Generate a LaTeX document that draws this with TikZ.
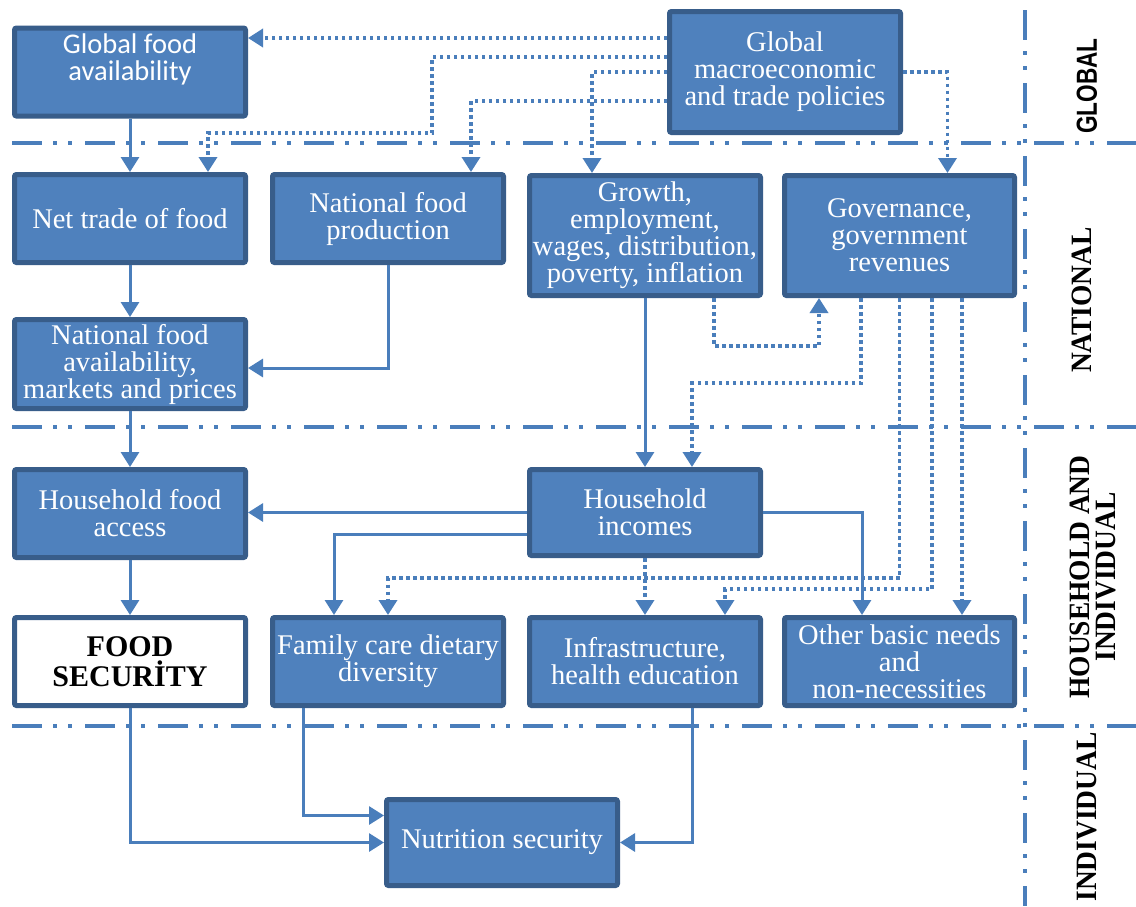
\documentclass[tikz,border=0pt]{standalone}
\usepackage{fontspec}
\setmainfont{Liberation Serif}
\newfontfamily\calfont{Carlito}
\newfontfamily\lsans{Liberation Sans}[FakeStretch=0.78]
\newfontfamily\labserif{Liberation Serif}[FakeStretch=0.93]
\usetikzlibrary{arrows.meta}
\definecolor{boxfill}{HTML}{4F81BD}
\definecolor{boxline}{HTML}{385D8A}
\definecolor{conn}{HTML}{4A7EBB}
\tikzset{
  box/.style={draw=boxline, fill=boxfill, line width=5pt, rounded corners=2pt,
    minimum width=231pt, minimum height=88pt, inner sep=0pt, align=center,
    text=white, font=\fontsize{28.5}{27}\selectfont},
  tallbox/.style={box, minimum height=120pt},
  sol/.style={draw=conn, line width=3pt, -{Triangle[width=18pt,length=15pt]}},
  dotc/.style={sol, line width=3.5pt, dash pattern=on 3.5pt off 3.5pt},
  divider/.style={draw=conn, line width=4pt,
    dash pattern=on 30pt off 11pt on 4pt off 11pt on 4pt off 13pt},
  lvl/.style={rotate=90, align=center, text=black,
    font=\labserif\bfseries\fontsize{29.5}{26}\selectfont}
}
\begin{document}
\begin{tikzpicture}[x=1pt,y=-1pt]
\fill[white] (0,0) rectangle (1136,906);
\useasboundingbox (0,0) rectangle (1136,906);

% level dividers
\draw[divider] (12,143) -- (1136,143);
\draw[divider] (12,427) -- (1136,427);
\draw[divider] (12,726) -- (1136,726);
\draw[divider] (1025,10) -- (1025,906);

% level labels
\node[lvl, font=\lsans\bfseries\fontsize{29}{26}\selectfont] (lglobal) at (1087,86) {GLOBAL};
\node[lvl] (lnational) at (1082,300) {NATIONAL};
\node[lvl] (lhousehold) at (1093,577) {HOUSEHOLD AND\\INDIVIDUAL};
\node[lvl] (lindividual) at (1087,817) {INDIVIDUAL};

% boxes
\node[box] (gfa) at (130,72) {};
\node[text=white, align=center, font=\calfont\fontsize{28.5}{27}\selectfont] (gfat) at (130,59) {Global food\\availability};
\node[box, minimum height=121pt] (gmt) at (785,72) {Global\\macroeconomic\\and trade policies};
\node[box] (ntf) at (130,218.5) {Net trade of food};
\node[box] (nfp) at (388,218.5) {National food\\production};
\node[tallbox] (gro) at (645,235.5) {Growth,\\employment,\\wages, distribution,\\poverty, inflation};
\node[tallbox, minimum width=230pt] (gov) at (899.5,235.5) {Governance,\\government\\revenues};
\node[box, minimum height=89pt] (nfa) at (130,364) {National food\\availability,\\markets and prices};
\node[box] (hfa) at (130,513.5) {Household food\\access};
\node[box, minimum height=86pt] (hin) at (645,512.5) {Household\\incomes};
\node[box, fill=white, text=black, font=\bfseries\fontsize{30}{29.5}\selectfont] (fs) at (130,661.5) {FOOD\\SECURİTY};
\node[box] (fam) at (388,661.5) {Family care dietary\\diversity};
\node[box] (inf) at (645,661.5) {Infrastructure,\\health education};
\node[box, minimum width=230pt] (obn) at (899.5,661.5) {Other basic needs\\and\\non-necessities};
\node[box, minimum height=86pt] (nut) at (502,842.5) {Nutrition security};

% dotted links from global policies
\draw[dotc] ([yshift=34]gmt.west) -- ([yshift=34]gfa.east);
\draw[dotc] ([yshift=15]gmt.west) -| (432,133) -| ([xshift=78]ntf.north);
\draw[dotc] ([yshift=-29]gmt.west) -| ([xshift=83]nfp.north);
\draw[dotc] (gmt.west) -| ([xshift=-53]gro.north);
\draw[dotc] (gmt.east) -| ([xshift=48]gov.north);

% dotted national links
\draw[dotc] ([xshift=69]gro.south) -- (714,346) -| ([xshift=-80.5]gov.south);
\draw[dotc] ([xshift=-38.5]gov.south) |- (692,383) -- ([xshift=47]hin.north);
\draw[dotc] (gov.south) |- (388,578) -- (fam.north);
\draw[dotc] ([xshift=32.5]gov.south) |- (725,589) -- ([xshift=80]inf.north);
\draw[dotc] ([xshift=62.5]gov.south) -- ([xshift=62.5]obn.north);
\draw[dotc] (hin.south) -- (inf.north);

% solid links
\draw[sol] (gfa.south) -- (ntf.north);
\draw[sol] (ntf.south) -- (nfa.north);
\draw[sol] (nfp.south) |- ([yshift=-4]nfa.east);
\draw[sol] (nfa.south) -- (hfa.north);
\draw[sol] (hfa.south) -- (fs.north);
\draw[sol] (gro.south) -- (hin.north);
\draw[sol] (hin.west) -- (hin.west -| hfa.east);
\draw[sol] ([yshift=-21.5]hin.west) -| ([xshift=-54]fam.north);
\draw[sol] (hin.east) -| ([xshift=-37.5]obn.north);
\draw[sol] (fs.south) |- (nut.west);
\draw[sol] ([xshift=-85]fam.south) |- ([yshift=27]nut.west);
\draw[sol] ([xshift=47]inf.south) |- (nut.east);
\end{tikzpicture}
\end{document}
